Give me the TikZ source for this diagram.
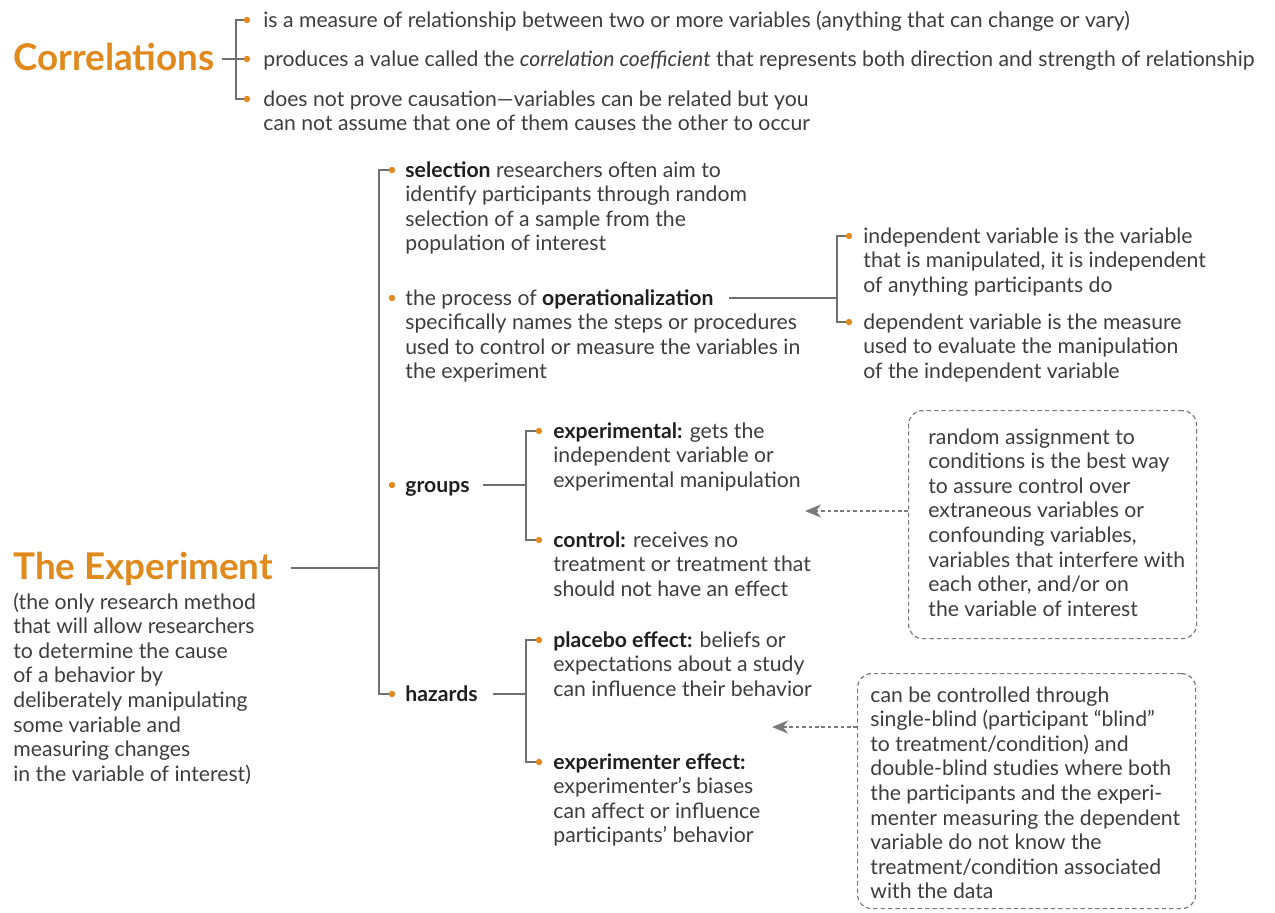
\documentclass[tikz,border=0pt]{standalone}
\usepackage{fontspec}
\setmainfont{Lato}
\usetikzlibrary{arrows.meta}

\definecolor{accent}{HTML}{E08A1E}
\definecolor{ink}{HTML}{3D3D3D}
\definecolor{inkdark}{HTML}{1F1F1F}
\definecolor{rulegray}{HTML}{707070}
\definecolor{notegray}{HTML}{7A7A7A}
\newcommand{\kw}[1]{\textbf{\color{inkdark}#1}}
\newcommand{\textblock}[1]{\begin{tabular}[t]{@{}l@{}}#1\end{tabular}}

\tikzset{
  body/.style={anchor=base west, inner sep=0pt, text=ink, yshift=-1pt,
    font=\fontsize{10.6}{12.3}\selectfont},
  heading/.style={anchor=base west, inner sep=0pt, text=accent,
    font=\fontsize{18.4}{20}\selectfont\bfseries},
  branch/.style={draw=rulegray, line width=0.7pt},
  notebox/.style={draw=notegray, line width=0.6pt, dash pattern=on 2.2pt off 1.5pt,
    rounded corners=7pt, anchor=north west, inner sep=0pt},
  notearrow/.style={draw=notegray, line width=0.65pt, dash pattern=on 1.8pt off 1.4pt,
    -{Stealth[length=8pt,width=6.5pt,inset=2.5pt]}},
}

\begin{document}
\begin{tikzpicture}[x=0.5pt,y=-0.5pt]
  \useasboundingbox (0,0) rectangle (1275,912);

  % correlations
  \node[heading] (corr) at (13,70) {Correlations};
  \coordinate (c1) at (247,20);
  \coordinate (c2) at (247,59);
  \coordinate (c3) at (247,99);
  \node[body] (c1t) at (263,25) {is a measure of relationship between two or more variables (anything that can change or vary)};
  \node[body] (c2t) at (263,64) {produces a value called the \textit{correlation coefficient} that represents both direction and strength of relationship};
  \node[body] (c3t) at (263,104) {\textblock{does not prove causation---variables can be related but you\\can not assume that one of them causes the other to occur}};
  \draw[branch] (c1) -- ++(-11,0) |- (c3);
  \draw[branch, shorten <=3.5pt] (corr.east |- c2) -- (c2);

  % the experiment
  \node[heading] (expt) at (13,579) {The Experiment};
  \node[body] (exptt) at (13,607) {\textblock{(the only research method\\that will allow researchers\\to determine the cause\\of a behavior by\\deliberately manipulating\\some variable and\\measuring changes\\in the variable of interest)}};
  \coordinate (spine) at (379,568);
  \coordinate (s1) at (392,170);
  \coordinate (s2) at (392,298);
  \coordinate (s3) at (392,485);
  \coordinate (s4) at (392,694);
  \draw[branch] (s1) -- ++(-13,0) |- (s4);
  \draw[branch, shorten <=8.5pt] (expt.east |- spine) -- (spine);

  \node[body] (sel) at (405,175) {\textblock{\kw{selection} researchers often aim to\\identify participants through random\\selection of a sample from the\\population of interest}};
  \node[body] (oper) at (405,303) {\textblock{the process of \kw{operationalization}\\specifically names the steps or procedures\\used to control or measure the variables in\\the experiment}};

  % operationalization
  \coordinate (opend) at (729,298);
  \coordinate (ojoin) at (837,298);
  \coordinate (o1) at (849,236);
  \coordinate (o2) at (849,322);
  \draw[branch] (o1) -- ++(-12,0) |- (o2);
  \draw[branch] (opend) -- (ojoin);
  \node[body] (indep) at (863,241) {\textblock{independent variable is the variable\\that is manipulated, it is independent\\of anything participants do}};
  \node[body] (dep) at (863,327) {\textblock{dependent variable is the measure\\used to evaluate the manipulation\\of the independent variable}};

  % groups
  \node[body] (grp) at (405,490) {\kw{groups}};
  \coordinate (gjoin) at (526,485);
  \coordinate (g1) at (539,431);
  \coordinate (g2) at (539,540);
  \draw[branch] (g1) -- ++(-13,0) |- (g2);
  \draw[branch, shorten <=6.5pt] (grp.east |- gjoin) -- (gjoin);
  \node[body] (expl) at (553,436) {\textblock{\kw{experimental:} gets the\\independent variable or\\experimental manipulation}};
  \node[body] (ctrl) at (553,545) {\textblock{\kw{control:} receives no\\treatment or treatment that\\should not have an effect}};

  % hazards
  \node[body] (haz) at (405,699) {\kw{hazards}};
  \coordinate (hjoin) at (526,694);
  \coordinate (h1) at (539,640);
  \coordinate (h2) at (539,762);
  \draw[branch] (h1) -- ++(-13,0) |- (h2);
  \draw[branch, shorten <=7.5pt] (haz.east |- hjoin) -- (hjoin);
  \node[body] (plac) at (553,645) {\textblock{\kw{placebo effect:} beliefs or\\expectations about a study\\can influence their behavior}};
  \node[body] (exper) at (553,767) {\textblock{\kw{experimenter effect:}\\experimenter’s biases\\can affect or influence\\participants’ behavior}};

  % notes
  \node[notebox, minimum width=144pt, minimum height=114pt] (boxA) at (908,410) {};
  \node[body] (noteA) at (928,442) {\textblock{random assignment to\\conditions is the best way\\to assure control over\\extraneous variables or\\confounding variables,\\variables that interfere with\\each other, and/or on\\the variable of interest}};
  \coordinate (tipA) at (805,511);
  \draw[notearrow] (boxA.west |- tipA) -- (tipA);

  \node[notebox, minimum width=169pt, minimum height=117.5pt] (boxB) at (857,673) {};
  \node[body] (noteB) at (870,700) {\textblock{can be controlled through\\single-blind (participant “blind”\\to treatment/condition) and\\double-blind studies where both\\the participants and the experi-\\menter measuring the dependent\\variable do not know the\\treatment/condition associated\\with the data}};
  \coordinate (tipB) at (772,727);
  \draw[notearrow] (boxB.west |- tipB) -- (tipB);

  \foreach \d in {c1,c2,c3,s1,s2,s3,s4,o1,o2,g1,g2,h1,h2}
    \fill[accent] (\d) circle (3.2);
\end{tikzpicture}
\end{document}
